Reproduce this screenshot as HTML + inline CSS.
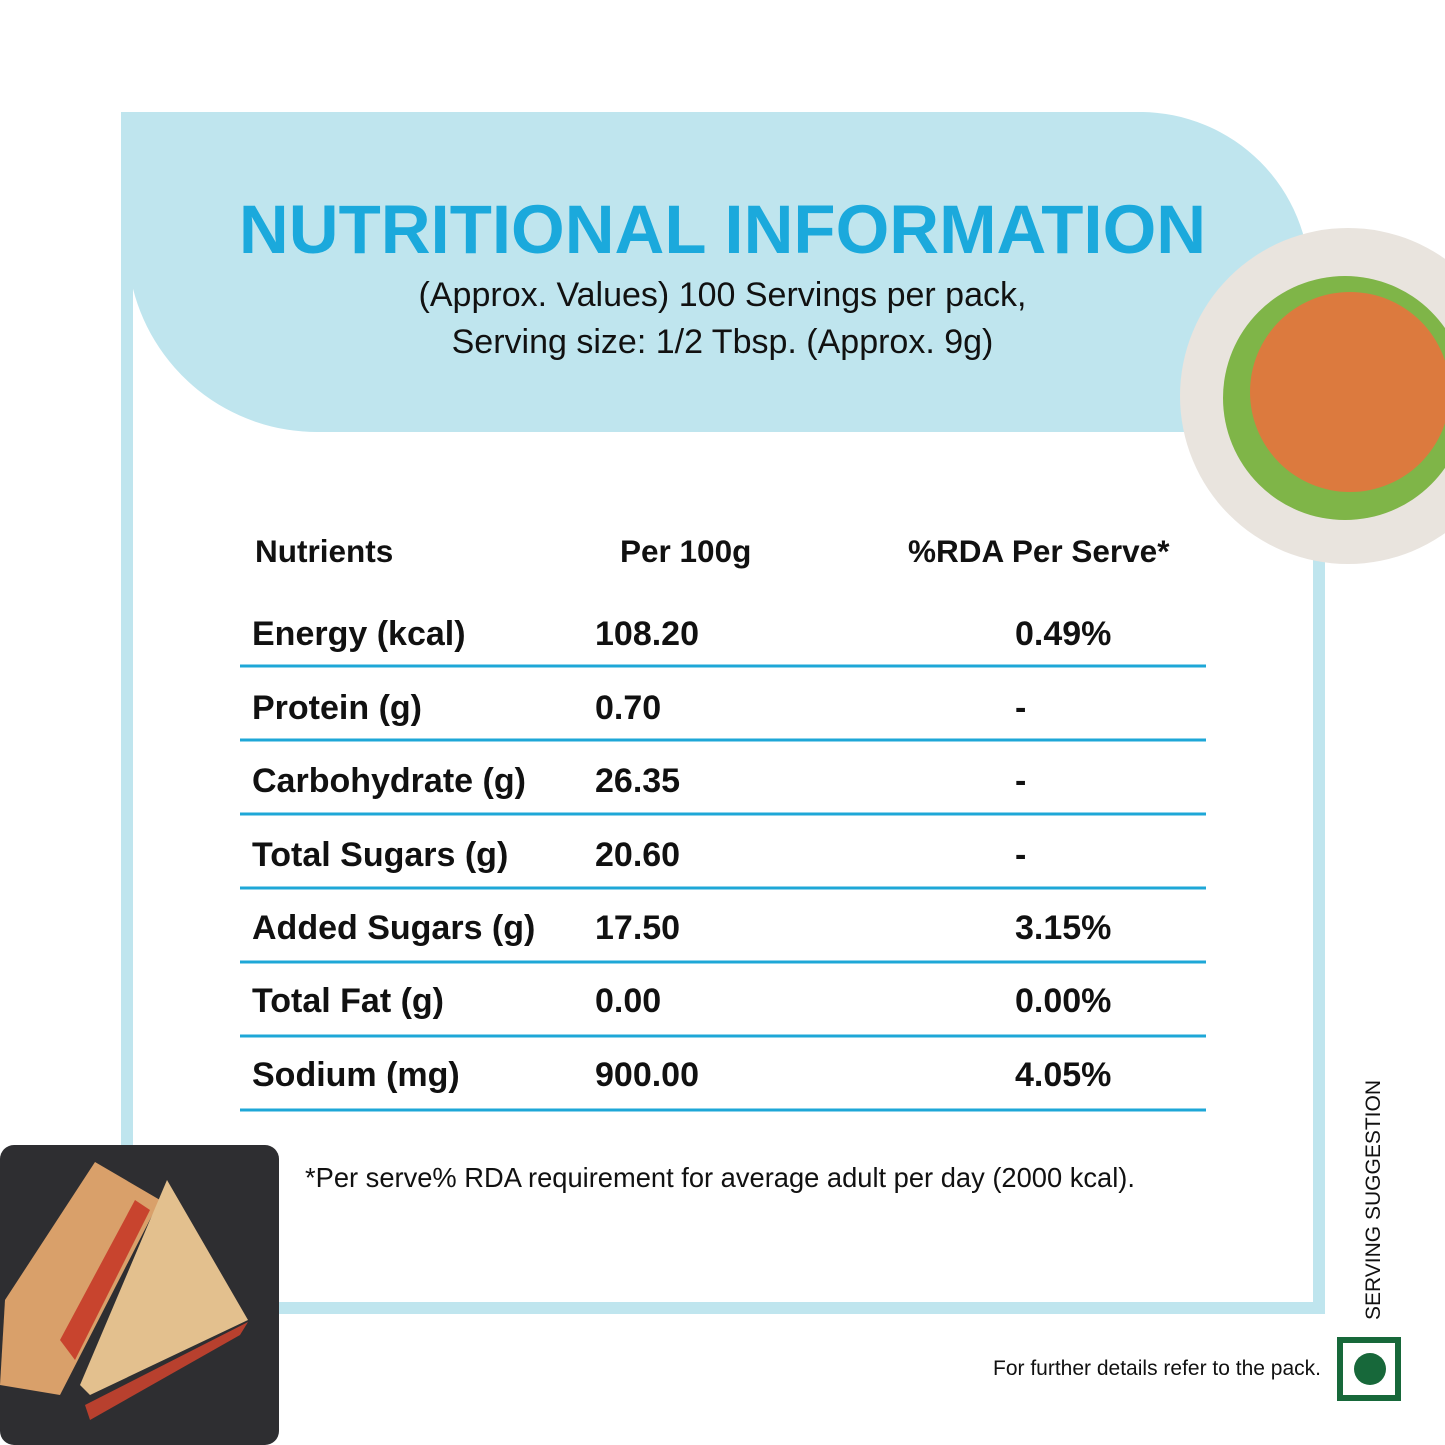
<!DOCTYPE html>
<html><head><meta charset="utf-8"><style>
body{margin:0;width:1445px;height:1445px;background:#fff;position:relative;overflow:hidden;font-family:"Liberation Sans",sans-serif}
.a{position:absolute;white-space:nowrap}
.r{font-size:34px;font-weight:bold;color:#111}
.h{font-size:31.5px;font-weight:bold;color:#111}
</style></head><body>
<svg class="a" style="left:0;top:0" width="1445" height="1445">
<path d="M127 112 V1308 H1319 V540" fill="none" stroke="#bfe5ee" stroke-width="12"/>
<path d="M121 112 H1140 A170 170 0 0 1 1310 282 V432 H320 A190 190 0 0 1 131 280 V112 Z" fill="#bfe5ee"/>
<g stroke="#1ea7d7" stroke-width="3">
<line x1="240" y1="666" x2="1206" y2="666"/><line x1="240" y1="740" x2="1206" y2="740"/>
<line x1="240" y1="814" x2="1206" y2="814"/><line x1="240" y1="888" x2="1206" y2="888"/>
<line x1="240" y1="962" x2="1206" y2="962"/><line x1="240" y1="1036" x2="1206" y2="1036"/>
<line x1="240" y1="1110" x2="1206" y2="1110"/></g>
<circle cx="1348" cy="396" r="168" fill="#e9e4de"/>
<circle cx="1345" cy="398" r="122" fill="#7fb548"/>
<circle cx="1350" cy="392" r="100" fill="#dc7a3e"/>
<rect x="0" y="1145" width="279" height="300" rx="14" fill="#2e2e31"/>
<polygon points="95,1162 160,1200 60,1395 0,1385 5,1300" fill="#d9a06a"/>
<polygon points="60,1340 135,1200 150,1210 75,1360" fill="#c8442e"/>
<polygon points="167,1180 248,1320 90,1395 80,1385" fill="#e3c08e"/>
<polygon points="240,1335 90,1420 85,1405 248,1322" fill="#b8402e"/>
<rect x="1340" y="1340" width="58" height="58" fill="none" stroke="#17683a" stroke-width="6"/>
<circle cx="1370" cy="1369" r="16" fill="#17683a"/>
</svg>
<div class="a" style="left:0;width:1445px;text-align:center;top:190px;font-size:69px;font-weight:bold;color:#1ba9dc">NUTRITIONAL INFORMATION</div>
<div class="a" style="left:0;width:1445px;text-align:center;top:272px;font-size:34px;line-height:47px;color:#111">(Approx. Values) 100 Servings per pack,<br>Serving size: 1/2 Tbsp. (Approx. 9g)</div>
<div class="a h" style="left:255px;top:533px">Nutrients</div>
<div class="a h" style="left:620px;top:533px">Per 100g</div>
<div class="a h" style="left:908px;top:533px">%RDA Per Serve*</div>
<div class="a r" style="left:252px;top:615px">Energy (kcal)</div><div class="a r" style="left:595px;top:615px">108.20</div><div class="a r" style="left:1015px;top:615px">0.49%</div>
<div class="a r" style="left:252px;top:689px">Protein (g)</div><div class="a r" style="left:595px;top:689px">0.70</div><div class="a r" style="left:1015px;top:689px">-</div>
<div class="a r" style="left:252px;top:762px">Carbohydrate (g)</div><div class="a r" style="left:595px;top:762px">26.35</div><div class="a r" style="left:1015px;top:762px">-</div>
<div class="a r" style="left:252px;top:836px">Total Sugars (g)</div><div class="a r" style="left:595px;top:836px">20.60</div><div class="a r" style="left:1015px;top:836px">-</div>
<div class="a r" style="left:252px;top:909px">Added Sugars (g)</div><div class="a r" style="left:595px;top:909px">17.50</div><div class="a r" style="left:1015px;top:909px">3.15%</div>
<div class="a r" style="left:252px;top:982px">Total Fat (g)</div><div class="a r" style="left:595px;top:982px">0.00</div><div class="a r" style="left:1015px;top:982px">0.00%</div>
<div class="a r" style="left:252px;top:1056px">Sodium (mg)</div><div class="a r" style="left:595px;top:1056px">900.00</div><div class="a r" style="left:1015px;top:1056px">4.05%</div>
<div class="a" style="left:305px;top:1162px;font-size:27.3px;color:#111">*Per serve% RDA requirement for average adult per day (2000 kcal).</div>
<div class="a" style="left:993px;top:1357px;font-size:21px;color:#111">For further details refer to the pack.</div>
<div class="a" style="left:1362px;top:1320px;font-size:21px;color:#111;transform:rotate(-90deg);transform-origin:0 0">SERVING SUGGESTION</div>
</body></html>
